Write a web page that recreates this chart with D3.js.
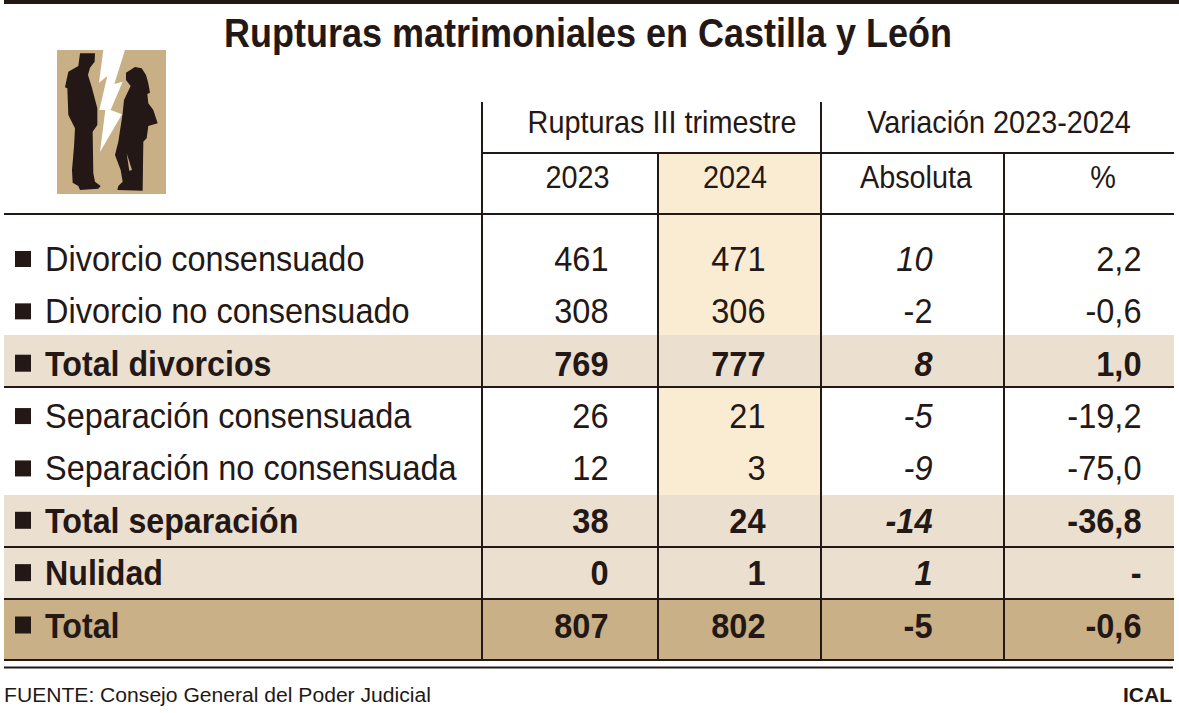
<!DOCTYPE html>
<html><head><meta charset="utf-8">
<script src="https://cdn.jsdelivr.net/npm/d3@7/dist/d3.min.js"></script>
<style>html,body{margin:0;padding:0;background:#fff}svg{display:block}text{font-family:"Liberation Sans",Arial,sans-serif;fill:#231815}</style>
</head><body><div id="c"></div>
<script>
const title = "Rupturas matrimoniales en Castilla y León";
const groupHeaders = ["Rupturas III trimestre", "Variación 2023-2024"];
const columnHeaders = ["2023", "2024", "Absoluta", "%"];
const rows = ["Divorcio consensuado","Divorcio no consensuado","Total divorcios","Separación consensuada","Separación no consensuada","Total separación","Nulidad","Total"];
const values2023 = ["461","308","769","26","12","38","0","807"];
const values2024 = ["471","306","777","21","3","24","1","802"];
const absolute = ["10","-2","8","-5","-9","-14","1","-5"];
const percent = ["2,2","-0,6","1,0","-19,2","-75,0","-36,8","-","-0,6"];
const boldRows = [2,5,6,7];
const italicAbs = [0,2,3,4,5,6];
const source = "FUENTE: Consejo General del Poder Judicial";
const credit = "ICAL";

const ink="#231815", light="#ebdfcf", tan="#c9b086", cream="#f9ecd2";
const svg=d3.select("#c").append("svg").attr("width",1179).attr("height",713);
const y=d3.scalePoint().domain(rows).range([271,637.5]);
const L=4,R=1174,V=[482,658,821,1004];
const colRight=[608.5,765.5,932.5,1141.5];

function rect(x0,y0,x1,y1,f){svg.append("rect").attr("x",x0).attr("y",y0).attr("width",x1-x0).attr("height",y1-y0).attr("fill",f);}
function line(x0,y0,x1,y1,w=2){svg.append("line").attr("x1",x0).attr("y1",y0).attr("x2",x1).attr("y2",y1).attr("stroke",ink).attr("stroke-width",w);}
function txt(s,x,yy,size,anchor,sx,o={}){
  return svg.append("text").text(s).attr("transform",`translate(${x},${yy}) scale(${sx},1)`)
    .attr("font-size",size).attr("text-anchor",anchor)
    .attr("font-weight",o.bold?"bold":"normal").attr("font-style",o.italic?"italic":"normal");
}

rect(V[1],153,V[2],495,cream);
rect(L,335,R,387,light);
rect(L,495,R,599,light);
rect(L,599,R,660,tan);

rect(L,0,1179,4,ink);
line(V[0],102,V[0],660);line(V[2],102,V[2],660);
line(V[1],153,V[1],660);line(V[3],153,V[3],660);
line(V[0],153,R,153);line(L,214,R,214);
line(L,387,R,387,2);line(L,547,R,547);line(L,599,R,599);line(L,660,R,660);line(L,667.5,1173,667.5);

txt(title,588,47,40,"middle",0.9,{bold:true});
txt(groupHeaders[0],662,133,32,"middle",0.9);
txt(groupHeaders[1],999,133,32,"middle",0.9);
const hc=[577.5,735,916,1103];
columnHeaders.forEach((h,i)=>txt(h,hc[i],188,32,"middle",0.9));

rows.forEach((r,i)=>{
  const b=boldRows.includes(i), yy=y(r);
  rect(15,yy-(b?21:20),31,yy-4,ink);
  txt(r,45,yy,35,"start",b?0.92:0.928,{bold:b});
  [values2023,values2024,absolute,percent].forEach((col,c)=>{
    txt(col[i],colRight[c],yy,35,"end",0.93,{bold:b,italic:c===2&&italicAbs.includes(i)});
  });
});
txt(source,4,702,21,"start",1.005);
txt(credit,1172,702,21,"end",1,{bold:true});

// icon
const ic=svg.append("g").attr("transform","scale(0.3333)");
ic.append("rect").attr("x",171).attr("y",150).attr("width",327).attr("height",432).attr("fill","#c9af85");
ic.append("path").attr("fill","#fff").attr("d","M310,150L375,150L343,252L368,245L332,330L366,343L300,456L316,330L298,330L322,228L297,248Z");
ic.append("path").attr("fill",ink).attr("d","M240,160L285,160L284,185L270,203L264,225L275,260L292,325L292,375L278,395L280,520L285,545L302,558L295,566L240,570L235,558L218,548L216,510L222,440L225,385L205,345L202,265L195,262L205,215L235,198Z");
ic.append("path").attr("fill",ink).attr("d","M405,201L425,205L438,225L445,250L450,278L442,282L445,310L460,330L473,370L445,378L440,415L430,425L428,572L352,570L355,558L368,545L362,510L345,465L355,425L368,340L372,300L392,258L378,240L378,218Z");
ic.append("path").attr("fill","#c9af85").attr("d","M380,460L396,510L388,512Z");
</script></body></html>
